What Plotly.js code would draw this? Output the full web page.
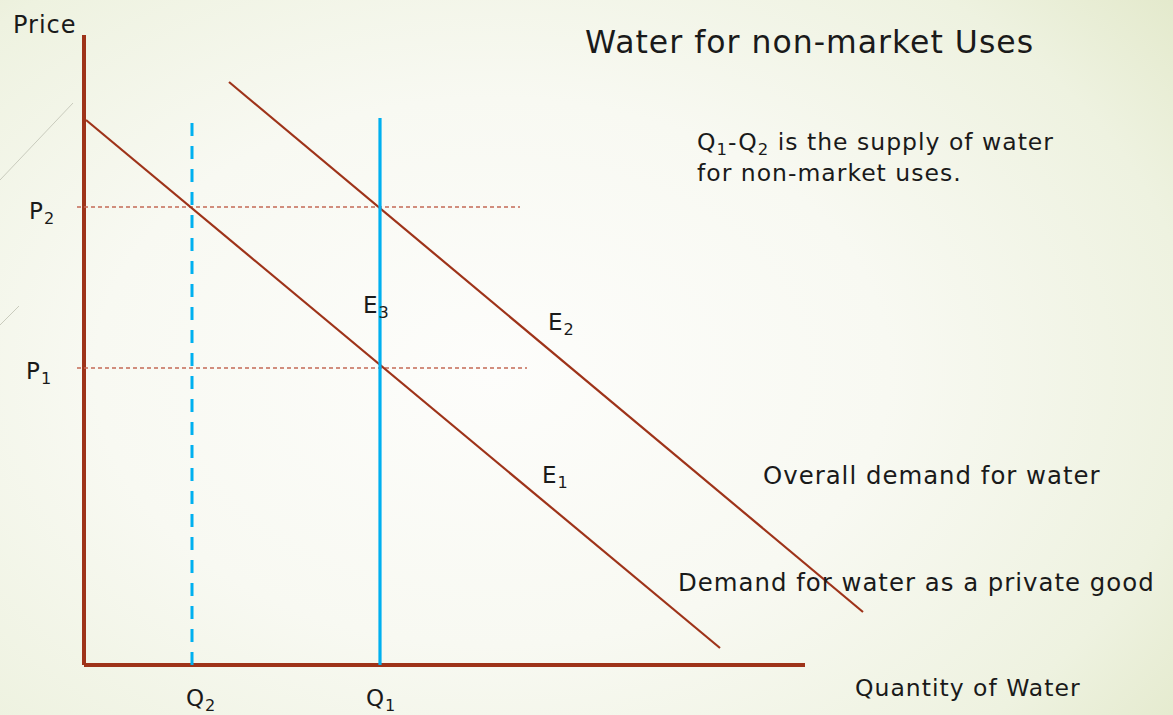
<!DOCTYPE html>
<html>
<head>
<meta charset="utf-8">
<script src="https://cdn.plot.ly/plotly-3.0.1.min.js"></script>
<style>
  html, body { margin: 0; padding: 0; }
  body {
    width: 1173px; height: 715px; overflow: hidden;
    background: radial-gradient(ellipse 75% 85% at 42% 52%, #fdfdfb 0%, #f8f9f2 45%, #eef2e0 80%, #e3e9cb 100%);
  }
  #chart { width: 1173px; height: 715px; }
  .annotation-text { letter-spacing: 1px; }
</style>
</head>
<body>
<div id="chart"></div>
<script>
// ---- Data (quantity / price units measured from the axes origin) ----
const axisMaxQ = 721;
const axisMaxP = 630;

const privateDemandQ = [2, 636];
const privateDemandP = [545, 17];

const overallDemandQ = [145, 779];
const overallDemandP = [583, 53];

const quantityLabels = ['Q<sub>2</sub>', 'Q<sub>1</sub>'];
const quantityValues = [108, 296];
const quantityLineTops = [545, 547];

const priceLabels = ['P<sub>2</sub>', 'P<sub>1</sub>'];
const priceValues = [458, 297];
const priceLineEnds = [436, 443];
const priceLineStart = -7;

const pointLabels = ['E<sub>3</sub>', 'E<sub>2</sub>', 'E<sub>1</sub>'];
const curveLabels = ['Overall demand for water', 'Demand for water as a private good'];
const titleText = 'Water for non-market Uses';
const noteText = 'Q<sub>1</sub>-Q<sub>2</sub> is the supply of water<br>for non-market uses.';
const yAxisLabel = 'Price';
const xAxisLabel = 'Quantity of Water';

// ---- Build traces ----
const red = '#9e3319';
const blue = '#00b0f0';
const traces = [];

// Axes
traces.push({x: [0, 0], y: [0, axisMaxP], mode: 'lines', line: {color: red, width: 4}, hoverinfo: 'skip'});
traces.push({x: [0, axisMaxQ], y: [0, 0], mode: 'lines', line: {color: red, width: 4}, hoverinfo: 'skip'});

// Price guide lines
priceValues.forEach((p, i) => {
  traces.push({x: [priceLineStart, priceLineEnds[i]], y: [p, p], mode: 'lines',
    line: {color: '#c46a55', width: 1.3, dash: '4px,3px'}, hoverinfo: 'skip'});
});

// Demand curves
traces.push({x: privateDemandQ, y: privateDemandP, mode: 'lines', line: {color: red, width: 2.2}, hoverinfo: 'skip'});
traces.push({x: overallDemandQ, y: overallDemandP, mode: 'lines', line: {color: red, width: 2.2}, hoverinfo: 'skip'});

// Quantity lines (Q2 dashed, Q1 solid)
traces.push({x: [quantityValues[0], quantityValues[0]], y: [0, quantityLineTops[0]], mode: 'lines',
  line: {color: blue, width: 3, dash: '13px,10px'}, hoverinfo: 'skip'});
traces.push({x: [quantityValues[1], quantityValues[1]], y: [0, quantityLineTops[1]], mode: 'lines',
  line: {color: blue, width: 3.2}, hoverinfo: 'skip'});

// ---- Annotations ----
const font = 'DejaVu Sans, Liberation Sans, sans-serif';
const ann = [];
const txt = (x, y, text, size) => ({x, y, xref: 'x', yref: 'y', text, showarrow: false,
  xanchor: 'left', yanchor: 'middle', font: {family: font, size, color: '#1a1a1a'}, align: 'left'});

ann.push(txt(-73, 640, yAxisLabel, 24));
ann.push(txt(499, 623, titleText, 31.5));
ann.push(txt(611, 508, noteText, 23.5));
ann.push(txt(-57, priceValues[0] - 6, priceLabels[0], 23));
ann.push(txt(-60, priceValues[1] - 5, priceLabels[1], 23));
ann.push(txt(quantityValues[0] - 8, -35, quantityLabels[0], 23));
ann.push(txt(quantityValues[1] - 16, -35, quantityLabels[1], 23));
ann.push(txt(277, 358, pointLabels[0], 23));
ann.push(txt(462, 341, pointLabels[1], 23));
ann.push(txt(456, 188, pointLabels[2], 23));
ann.push(txt(677, 190, curveLabels[0], 24.4));
ann.push(txt(592, 83, curveLabels[1], 24.4));
ann.push(txt(769, -23, xAxisLabel, 23.5));

// ---- Decorative slide strokes ----
const shapes = [
  {type: 'line', xref: 'paper', yref: 'paper', x0: 0, y0: 1 - 180/715, x1: 73/1173, y1: 1 - 103/715,
   line: {color: '#c9cbbd', width: 1}},
  {type: 'line', xref: 'paper', yref: 'paper', x0: 0, y0: 1 - 325/715, x1: 19/1173, y1: 1 - 306/715,
   line: {color: '#c9cbbd', width: 1}}
];

const layout = {
  width: 1173, height: 715,
  margin: {l: 0, r: 0, t: 0, b: 0},
  paper_bgcolor: 'rgba(0,0,0,0)', plot_bgcolor: 'rgba(0,0,0,0)',
  showlegend: false,
  xaxis: {range: [-84, 1089], visible: false, fixedrange: true},
  yaxis: {range: [-50, 665], visible: false, fixedrange: true},
  annotations: ann,
  shapes: shapes
};

Plotly.newPlot('chart', traces, layout, {displayModeBar: false, staticPlot: true});
</script>
</body>
</html>
